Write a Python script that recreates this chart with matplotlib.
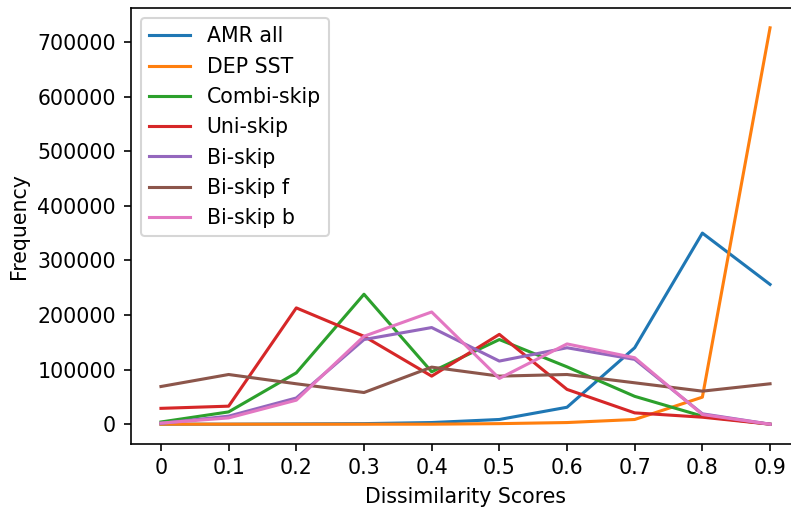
import matplotlib
matplotlib.use("Agg")
import matplotlib.pyplot as plt

# Dissimilarity score bins
scores = [0, 0.1, 0.2, 0.3, 0.4, 0.5, 0.6, 0.7, 0.8, 0.9]
score_labels = ["0", "0.1", "0.2", "0.3", "0.4", "0.5", "0.6", "0.7", "0.8", "0.9"]

# Frequency per bin for each representation
amr_all = [0, 0, 500, 1000, 3000, 8600, 31000, 140000, 350000, 256000]
dep_sst = [0, 0, 0, 0, 0, 1000, 3000, 8600, 49500, 726000]
combi_skip = [4000, 22500, 94000, 238000, 96000, 155000, 105000, 51000, 14700, 0]
uni_skip = [29000, 33000, 213000, 161000, 88000, 164500, 63700, 20700, 12800, 0]
bi_skip = [1500, 14700, 48000, 155000, 177000, 115600, 140000, 118700, 19000, 0]
bi_skip_f = [69000, 91000, 74000, 58000, 104500, 88000, 91000, 75800, 60500, 74000]
bi_skip_b = [2000, 11500, 44000, 161000, 205500, 83800, 147000, 121700, 17700, 0]

series = [
    ("AMR all", amr_all),
    ("DEP SST", dep_sst),
    ("Combi-skip", combi_skip),
    ("Uni-skip", uni_skip),
    ("Bi-skip", bi_skip),
    ("Bi-skip f", bi_skip_f),
    ("Bi-skip b", bi_skip_b),
]

W, H, DPI = 791, 508, 148
fig = plt.figure(figsize=(W / DPI, H / DPI), dpi=DPI)
# the plot area runs slightly past the right edge of the canvas
ax = fig.add_axes([130.5 / W, (H - 444) / H, (800.5 - 130.5) / W, (444 - 8) / H])

for name, values in series:
    ax.plot(scores, values, label=name)

ax.set_xticks(scores)
ax.set_xticklabels(score_labels)
ax.set_xlabel("Dissimilarity Scores")
ax.set_ylabel("Frequency")
ax.spines["right"].set_visible(False)
ax.legend(loc="upper left")

fig.savefig("out.png", dpi=DPI)
